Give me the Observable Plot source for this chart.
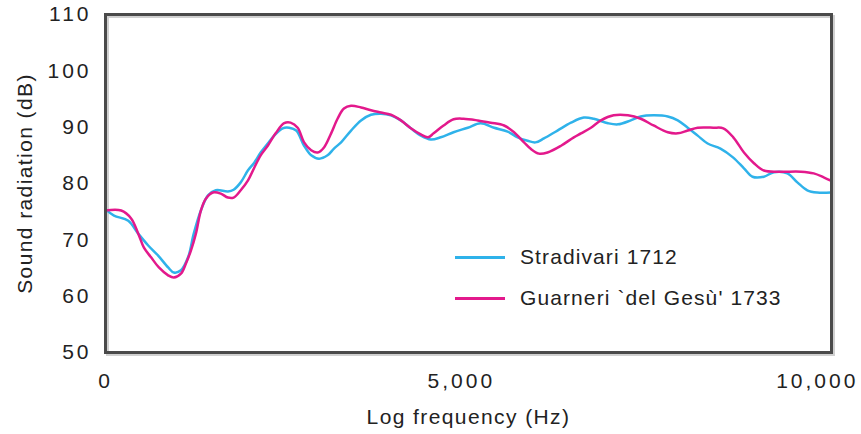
<!DOCTYPE html>
<html><head><meta charset="utf-8">
<script src="https://cdn.jsdelivr.net/npm/d3@7"></script>
<script src="https://cdn.jsdelivr.net/npm/@observablehq/plot@0.6"></script>
<style>
body{margin:0;background:#fff;}
#wrap{position:relative;width:861px;height:434px;font-family:"Liberation Sans",Arial,sans-serif;color:#222;}
g[aria-label="x-axis tick label"] text, g[aria-label="y-axis tick label"] text{letter-spacing:3px;}
.row{position:absolute;left:455px;height:24px;display:flex;align-items:center;font-size:21px;letter-spacing:1.1px;white-space:nowrap;}
.sw{width:50px;height:3px;margin-right:15px;}
</style>
</head><body>
<div id="wrap"></div>
<script>
const seriesNames = ["Stradivari 1712", "Guarneri `del Gesù' 1733"];
const seriesColors = ["#2fb2ea", "#e3198c"];

const stradFreq = [0,120,320,460,600,740,880,960,1060,1160,1240,1340,1440,1550,1720,1800,1900,2000,2090,2180,2280,2370,2490,2580,2680,2790,2890,3000,3120,3210,3310,3450,3590,3730,3870,4010,4150,4290,4430,4570,4710,4890,5090,5270,5460,5650,5790,5930,6040,6160,6350,6540,6720,6860,7060,7200,7380,7520,7700,7900,8040,8180,8320,8460,8640,8820,8970,9090,9250,9390,9580,9720,9860,10000,10190];
const stradDb = [75.4,74.3,73.4,71.1,69.0,67.2,65.1,64.2,64.6,66.9,71.1,75.2,77.9,78.8,78.6,78.9,80.2,82.3,83.7,85.5,87.1,88.5,89.8,89.9,89.4,86.7,85.0,84.4,85.0,86.2,87.3,89.4,91.2,92.2,92.4,92.1,91.2,89.8,88.5,87.8,88.2,89.1,89.9,90.7,89.9,89.2,88.2,87.6,87.3,88.0,89.4,90.8,91.7,91.5,90.7,90.5,91.2,91.9,92.1,91.9,91.2,89.9,88.5,87.1,86.2,84.6,82.7,81.2,81.2,82.0,81.8,80.2,78.8,78.4,78.4];

const guarnFreq = [0,220,360,460,540,640,750,880,960,1060,1130,1200,1270,1340,1410,1510,1620,1720,1800,1900,2000,2090,2180,2280,2390,2510,2600,2700,2790,2890,2980,3070,3170,3260,3350,3450,3590,3730,3870,4010,4150,4290,4430,4530,4610,4750,4890,5030,5230,5410,5600,5740,5880,5970,6090,6210,6400,6580,6680,6820,6960,7140,7340,7520,7700,7900,8040,8180,8320,8540,8680,8820,8970,9110,9250,9480,9770,9950,10090,10190];
const guarnDb = [75.2,75.2,73.8,71.1,68.6,66.9,65.1,63.7,63.3,64.0,65.8,68.1,71.1,75.2,77.3,78.4,78.2,77.5,77.5,78.8,80.5,82.8,85.0,86.7,88.9,90.7,90.8,89.9,87.3,85.9,85.5,86.4,88.9,91.5,93.3,93.8,93.5,93.0,92.6,92.2,91.2,89.8,88.7,88.2,88.9,90.3,91.4,91.5,91.2,90.8,90.3,89.1,87.3,86.2,85.3,85.5,86.7,88.2,88.9,89.9,91.2,92.1,92.1,91.5,90.3,89.1,88.9,89.4,89.9,89.9,89.8,88.2,85.5,83.6,82.3,82.1,82.1,81.8,81.1,80.5];

const xTicks = [0, 5000, 10000];
const yTicks = [50, 60, 70, 80, 90, 100, 110];
const xTitle = "Log frequency (Hz)";
const yTitle = "Sound radiation (dB)";

const strad = stradFreq.map((f, i) => ({f, db: stradDb[i]}));
const guarn = guarnFreq.map((f, i) => ({f, db: guarnDb[i]}));

const chart = Plot.plot({
  width: 861, height: 434,
  marginLeft: 105, marginRight: 30, marginTop: 14, marginBottom: 82,
  style: {fontFamily: "'Liberation Sans', Arial, sans-serif", fontSize: "21px", color: "#222", background: "transparent", overflow: "visible"},
  x: {domain: [0, 10200]},
  y: {domain: [50, 110]},
  marks: [
    Plot.frame({stroke: "#d0d0d0", strokeWidth: 3, dx: 2, dy: 2}),
    Plot.axisX({ticks: xTicks, tickFormat: d3.format(","), tickSize: 0, tickPadding: 21, label: null}),
    Plot.axisY({ticks: yTicks, tickSize: 0, tickPadding: 14, label: null}),
    Plot.text([xTitle], {text: d => d, frameAnchor: "bottom", textAnchor: "middle", dy: 71, fill: "#222"}),
    Plot.text([yTitle], {text: d => d, frameAnchor: "left", textAnchor: "middle", lineAnchor: "middle", rotate: -90, dx: -80, fill: "#222"}),
    Plot.line(strad, {x: "f", y: "db", stroke: seriesColors[0], strokeWidth: 2.5, curve: "catmull-rom"}),
    Plot.line(guarn, {x: "f", y: "db", stroke: seriesColors[1], strokeWidth: 2.5, curve: "catmull-rom"}),
    Plot.frame({stroke: "#4a4a4a", strokeWidth: 3})
  ]
});
d3.select(chart).selectAll("text")
  .filter(function () { return this.textContent === xTitle || this.textContent === yTitle; })
  .style("letter-spacing", "1.4px");
const wrap = document.getElementById("wrap");
wrap.appendChild(chart);
const tops = [245, 286];
seriesNames.forEach((name, i) => {
  const row = document.createElement("div");
  row.className = "row";
  row.style.top = tops[i] + "px";
  const sw = document.createElement("span");
  sw.className = "sw";
  sw.style.background = seriesColors[i];
  const t = document.createElement("span");
  t.textContent = name;
  row.appendChild(sw); row.appendChild(t);
  wrap.appendChild(row);
});
</script>
</body></html>
